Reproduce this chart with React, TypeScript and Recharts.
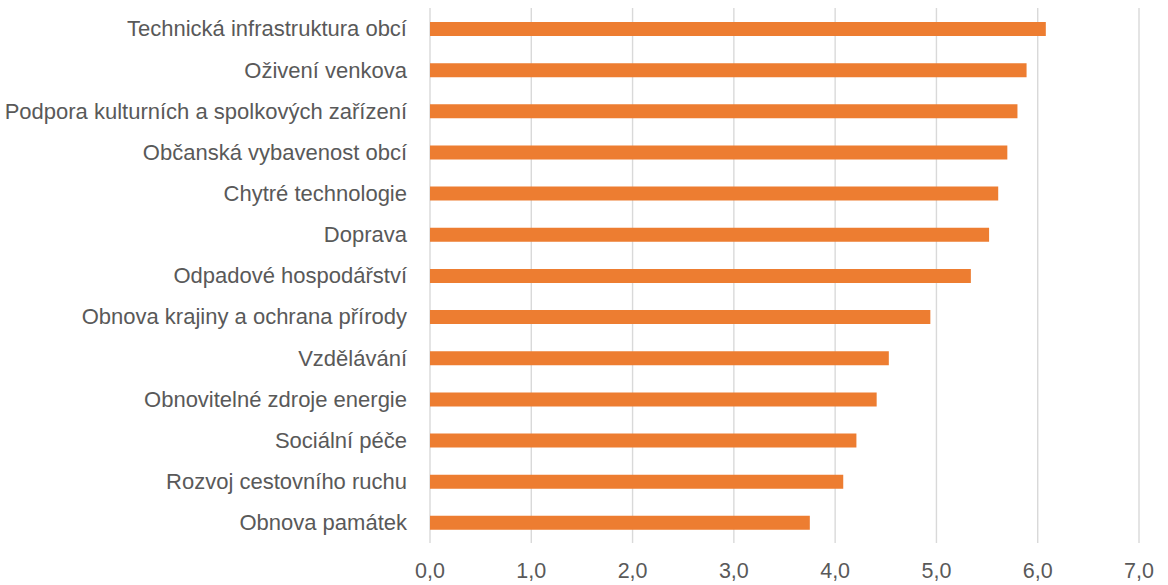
import React from "react";
import { BarChart, Bar, XAxis, YAxis, CartesianGrid } from "recharts";

const categories = [
  "Technická infrastruktura obcí",
  "Oživení venkova",
  "Podpora kulturních a spolkových zařízení",
  "Občanská vybavenost obcí",
  "Chytré technologie",
  "Doprava",
  "Odpadové hospodářství",
  "Obnova krajiny a ochrana přírody",
  "Vzdělávání",
  "Obnovitelné zdroje energie",
  "Sociální péče",
  "Rozvoj cestovního ruchu",
  "Obnova památek",
];

const values = [6.08, 5.89, 5.8, 5.7, 5.61, 5.52, 5.34, 4.94, 4.53, 4.41, 4.21, 4.08, 3.75];

const xTicks = [0, 1, 2, 3, 4, 5, 6, 7];

const data = categories.map((name, i) => ({ name, value: values[i] }));

const FONT = "'Liberation Sans', Arial, sans-serif";
const TEXT_COLOR = "#595959";
const GRID = "#D9D9D9";
const BAR = "#ED7D31";

export default function App() {
  return (
    <div style={{ position: "absolute", left: 0, top: 0, width: 1168, height: 585, background: "#fff" }}>
      <BarChart
        width={1168}
        height={585}
        data={data}
        layout="vertical"
        margin={{ top: 8, right: 29, bottom: 0, left: 0 }}
        barCategoryGap={0}
      >
        <CartesianGrid horizontal={false} vertical={true} stroke={GRID} strokeWidth={1.4} />
        <XAxis
          type="number"
          domain={[0, 7]}
          ticks={xTicks}
          interval={0}
          height={42}
          axisLine={false}
          tickLine={false}
          tickSize={0}
          tickMargin={20}
          tickFormatter={(v: number) => v.toFixed(1).replace(".", ",")}
          tick={{ fill: TEXT_COLOR, fontSize: 21.5, fontFamily: FONT }}
        />
        <YAxis
          type="category"
          dataKey="name"
          width={430}
          axisLine={false}
          tickLine={false}
          tickSize={0}
          tickMargin={23}
          interval={0}
          tick={{ fill: TEXT_COLOR, fontSize: 22, fontFamily: FONT }}
        />
        <Bar dataKey="value" fill={BAR} barSize={14} isAnimationActive={false} />
      </BarChart>
    </div>
  );
}
